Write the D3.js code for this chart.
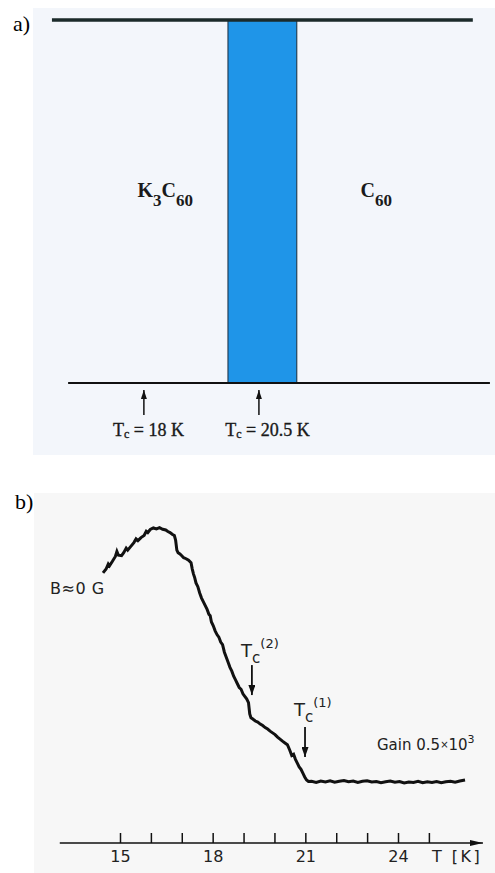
<!DOCTYPE html>
<html>
<head>
<meta charset="utf-8">
<script src="https://cdn.jsdelivr.net/npm/d3@7"></script>
<style>
  body { margin:0; background:#fff; }
  svg { display:block; }
</style>
</head>
<body>
<svg id="chart-area" width="495" height="873"></svg>
<script>
/*
*   two panels: a) phase sketch, b) signal vs temperature
*/

// ---- panel a data (schematic coordinate 0..100 across the panel)
var phaseNames   = [["K", "3", "C", "60"], ["C", "60"]];
var phaseStarts  = [22.6, 70.9];
var topLineSpan  = [4.1, 95.2];
var baseLineSpan = [7.6, 98.9];
var bandEdges    = [42.2, 57.1];
var tcValuesA    = ["18 K", "20.5 K"];
var tcArrowsA    = [24.0, 48.9];
var tcTextStartA = [17.3, 41.6];

// ---- panel b data
var tempK = [14.45, 14.55, 14.62, 14.66, 14.75, 14.85, 14.90, 14.95, 15.05, 15.12,
             15.20, 15.25, 15.35, 15.45, 15.52, 15.58, 15.68, 15.78, 15.85, 15.90,
             15.98, 16.08, 16.18, 16.28, 16.38, 16.48, 16.55, 16.62, 16.70, 16.76,
             16.80, 16.84, 16.88, 16.94, 17.00, 17.06, 17.14, 17.22, 17.30, 17.34,
             17.38, 17.42, 17.46, 17.52, 17.58, 17.64, 17.70, 17.76, 17.82, 17.88,
             17.92, 17.96, 18.02, 18.08, 18.14, 18.20, 18.26, 18.32, 18.38, 18.44,
             18.50, 18.56, 18.62, 18.68, 18.74, 18.80, 18.86, 18.92, 18.98, 19.04,
             19.10, 19.16, 19.20, 19.24, 19.30, 19.38, 19.46, 19.54, 19.62, 19.70,
             19.78, 19.86, 19.94, 20.02, 20.10, 20.18, 20.26, 20.34, 20.42, 20.50,
             20.56, 20.62, 20.68, 20.74, 20.80, 20.86, 20.92, 20.98, 21.04, 21.10,
             21.20, 21.35, 21.50, 21.65, 21.80, 21.95, 22.10, 22.25, 22.40, 22.55,
             22.70, 22.85, 23.00, 23.15, 23.30, 23.45, 23.60, 23.75, 23.90, 24.05,
             24.20, 24.35, 24.50, 24.65, 24.80, 24.95, 25.10, 25.25, 25.40, 25.55,
             25.70, 25.85, 26.00, 26.17];
var signal = [83.0, 84.5, 86.5, 85.8, 87.5, 89.5, 91.5, 90.0, 89.8, 91.0,
              92.8, 92.0, 93.5, 95.0, 96.5, 95.8, 97.0, 97.8, 99.5, 99.0,
              100.2, 100.8, 100.4, 100.9, 100.3, 100.0, 99.4, 99.0, 98.2, 97.8,
              96.0, 92.0, 91.0, 90.5, 89.8, 89.0, 88.6, 88.0, 87.0, 84.5,
              82.5, 81.0, 79.0, 77.5, 75.0, 73.0, 71.5, 70.0, 68.5, 66.5,
              66.0, 63.5, 62.0, 60.0, 58.5, 57.5, 55.5, 54.5, 51.5, 49.5,
              47.5, 45.5, 44.0, 42.0, 40.5, 39.0, 37.5, 36.8, 35.0, 34.0,
              33.0, 31.5, 27.0, 25.5, 25.0, 24.2, 23.8, 23.0, 22.4, 21.6,
              21.0, 20.2, 19.5, 18.8, 17.8, 17.0, 16.2, 15.5, 14.8, 12.5,
              10.5, 11.0, 9.0, 7.5, 6.0, 5.0, 3.5, 2.0, 0.8, 0.2,
              0.3, -0.2, 0.4, 0.0, 0.5, -0.1, 0.3, 0.6, 0.1, 0.4,
              -0.2, 0.3, 0.5, 0.0, 0.2, -0.3, 0.1, 0.4, -0.1, 0.2,
              -0.4, 0.0, -0.2, 0.3, -0.3, 0.1, -0.2, 0.2, -0.3, 0.1,
              0.3, -0.1, 0.4, 0.8];
var tickTemps  = [15, 16, 17, 18, 19, 20, 21, 22, 23, 24, 25];
var labelTemps = [15, 18, 21, 24];
var axisSpan   = [13.05, 26.75];
var tcTempsB   = [19.27, 20.99];      // T_c(2), T_c(1)
var tcArrowB   = [[46.4, 34.5], [21.8, 9.9]];
var tcTextB    = [{t:18.92, s:49.8, sup:"(2)"}, {t:20.63, s:26.0, sup:"(1)"}];

var svg = d3.select("#chart-area");
var defs = svg.append("defs");

function addMarker(id, len, wid){
  defs.append("marker")
    .attr("id", id)
    .attr("markerUnits", "userSpaceOnUse")
    .attr("viewBox", "0 0 " + len + " " + wid)
    .attr("refX", len).attr("refY", wid / 2)
    .attr("markerWidth", len).attr("markerHeight", wid)
    .attr("orient", "auto")
  .append("path")
    .attr("d", "M0,0L" + len + "," + (wid / 2) + "L0," + wid + "Z")
    .attr("fill", "#111");
}
addMarker("head-a", 9, 6);
addMarker("head-b", 10, 7);
addMarker("head-axis", 13, 6);

//=========== PANEL A
var panelA = { left:33, right:495, top:8, bottom:455 };
var xA = d3.scaleLinear().domain([0, 100]).range([panelA.left, panelA.right]);
var yA = d3.scaleLinear().domain([0, 1]).range([20, 383]);

svg.append("rect")
  .attr("x", panelA.left).attr("y", panelA.top)
  .attr("width", panelA.right - panelA.left).attr("height", panelA.bottom - panelA.top)
  .attr("fill", "#f3f6fb");

svg.append("text")
  .attr("x", 13).attr("y", 31)
  .attr("font-family", "Liberation Serif").attr("font-size", "22px")
  .text("a)");

// blue band
svg.append("rect")
  .attr("x", xA(bandEdges[0])).attr("y", yA(0))
  .attr("width", xA(bandEdges[1]) - xA(bandEdges[0]))
  .attr("height", yA(1) - yA(0))
  .attr("fill", "#1f95e8")
  .attr("stroke", "#1a2b3a").attr("stroke-width", 1);

// top and bottom lines
svg.append("line")
  .attr("x1", xA(topLineSpan[0])).attr("x2", xA(topLineSpan[1]))
  .attr("y1", yA(0)).attr("y2", yA(0))
  .attr("stroke", "#1b2a2a").attr("stroke-width", 3.5);
svg.append("line")
  .attr("x1", xA(baseLineSpan[0])).attr("x2", xA(baseLineSpan[1]))
  .attr("y1", yA(1)).attr("y2", yA(1))
  .attr("stroke", "#111").attr("stroke-width", 2);

// phase labels
phaseNames.forEach(function(parts, i){
  var t = svg.append("text")
    .attr("x", xA(phaseStarts[i])).attr("y", 197)
    .attr("font-family", "Liberation Serif").attr("font-weight", "bold")
    .attr("font-size", "20px").attr("fill", "#1a1a1a");
  parts.forEach(function(p, j){
    var isSub = (j % 2 == 1);
    t.append("tspan")
      .attr("font-size", isSub ? "17px" : "20px")
      .attr("dy", j == 0 ? 0 : (isSub ? 9 : -9))
      .text(p);
  });
});

// Tc arrows + labels
tcArrowsA.forEach(function(v, i){
  svg.append("line")
    .attr("x1", xA(v)).attr("x2", xA(v))
    .attr("y1", 415).attr("y2", 390)
    .attr("stroke", "#111").attr("stroke-width", 1.5)
    .attr("marker-end", "url(#head-a)");
  var t = svg.append("text")
    .attr("x", xA(tcTextStartA[i])).attr("y", 436)
    .attr("font-family", "Liberation Serif").attr("font-size", "18px")
    .attr("fill", "#1a1a1a").attr("stroke", "#1a1a1a").attr("stroke-width", 0.35);
  t.append("tspan").text("T");
  t.append("tspan").attr("font-size", "12px").attr("dy", 2).text("c");
  t.append("tspan").attr("dy", -2).text(" = " + tcValuesA[i]);
});

//=========== PANEL B
var panelB = { left:34, right:495, top:493, bottom:873 };
var x = d3.scaleLinear().domain([15, 24]).range([120, 398]);
var y = d3.scaleLinear().domain([0, 100]).range([782, 530]);
var axisY = 843;

svg.append("rect")
  .attr("x", panelB.left).attr("y", panelB.top)
  .attr("width", panelB.right - panelB.left).attr("height", panelB.bottom - panelB.top)
  .attr("fill", "#f7f7f7");

svg.append("text")
  .attr("x", 15).attr("y", 509)
  .attr("font-family", "Liberation Serif").attr("font-size", "22px")
  .text("b)");

// x axis with arrow
svg.append("line")
  .attr("x1", x(axisSpan[0])).attr("x2", x(axisSpan[1]))
  .attr("y1", axisY).attr("y2", axisY)
  .attr("stroke", "#111").attr("stroke-width", 1.6)
  .attr("marker-end", "url(#head-axis)");

var xAxisCall = d3.axisBottom(x)
  .tickValues(tickTemps)
  .tickSizeInner(-10).tickSizeOuter(0).tickPadding(8)
  .tickFormat(function(d){ return labelTemps.indexOf(d) >= 0 ? d : ""; });
var xAxisGroup = svg.append("g")
  .attr("transform", "translate(0," + axisY + ")")
  .call(xAxisCall);
xAxisGroup.select(".domain").remove();
xAxisGroup.selectAll("line").attr("stroke", "#111").attr("stroke-width", 1.5);
xAxisGroup.selectAll("text")
  .attr("font-family", "DejaVu Sans").attr("font-size", "16px")
  .attr("fill", "#222");

svg.append("text")
  .attr("x", 432).attr("y", 862)
  .attr("font-family", "DejaVu Sans").attr("font-size", "16px")
  .attr("letter-spacing", "2.5px").attr("fill", "#222")
  .text("T [K]");

// the curve
var pts = tempK.map(function(t, i){ return [t, signal[i]]; });
var line = d3.line()
  .x(function(d){ return x(d[0]); })
  .y(function(d){ return y(d[1]); });
svg.append("path")
  .datum(pts)
  .attr("d", line)
  .attr("fill", "none")
  .attr("stroke", "#111").attr("stroke-width", 3)
  .attr("stroke-linejoin", "miter");

// B label
svg.append("text")
  .attr("x", 50).attr("y", 594)
  .attr("font-family", "DejaVu Sans").attr("font-size", "16px")
  .attr("letter-spacing", "0.5px").attr("fill", "#222")
  .text("B≈0 G");

// gain label
var gain = svg.append("text")
  .attr("x", 377).attr("y", 750)
  .attr("font-family", "DejaVu Sans").attr("font-size", "15px")
  .attr("fill", "#222");
gain.append("tspan").text("Gain 0.5");
gain.append("tspan").attr("font-size", "10px").attr("dy", -2).text("×");
gain.append("tspan").attr("dy", 2).text("10");
gain.append("tspan").attr("font-size", "11px").attr("dy", -7).text("3");

// Tc arrows and labels
tcTempsB.forEach(function(t, i){
  svg.append("line")
    .attr("x1", x(t)).attr("x2", x(t))
    .attr("y1", y(tcArrowB[i][0])).attr("y2", y(tcArrowB[i][1]))
    .attr("stroke", "#111").attr("stroke-width", 1.8)
    .attr("marker-end", "url(#head-b)");
  var lab = svg.append("text")
    .attr("x", x(tcTextB[i].t)).attr("y", y(tcTextB[i].s))
    .attr("font-family", "DejaVu Sans").attr("font-size", "18px")
    .attr("fill", "#222");
  lab.append("tspan").text("T");
  lab.append("tspan").attr("font-size", "15px").attr("dy", 6).text("c");
  lab.append("tspan").attr("font-size", "13px").attr("dy", -15).text(tcTextB[i].sup);
});
</script>
</body>
</html>
